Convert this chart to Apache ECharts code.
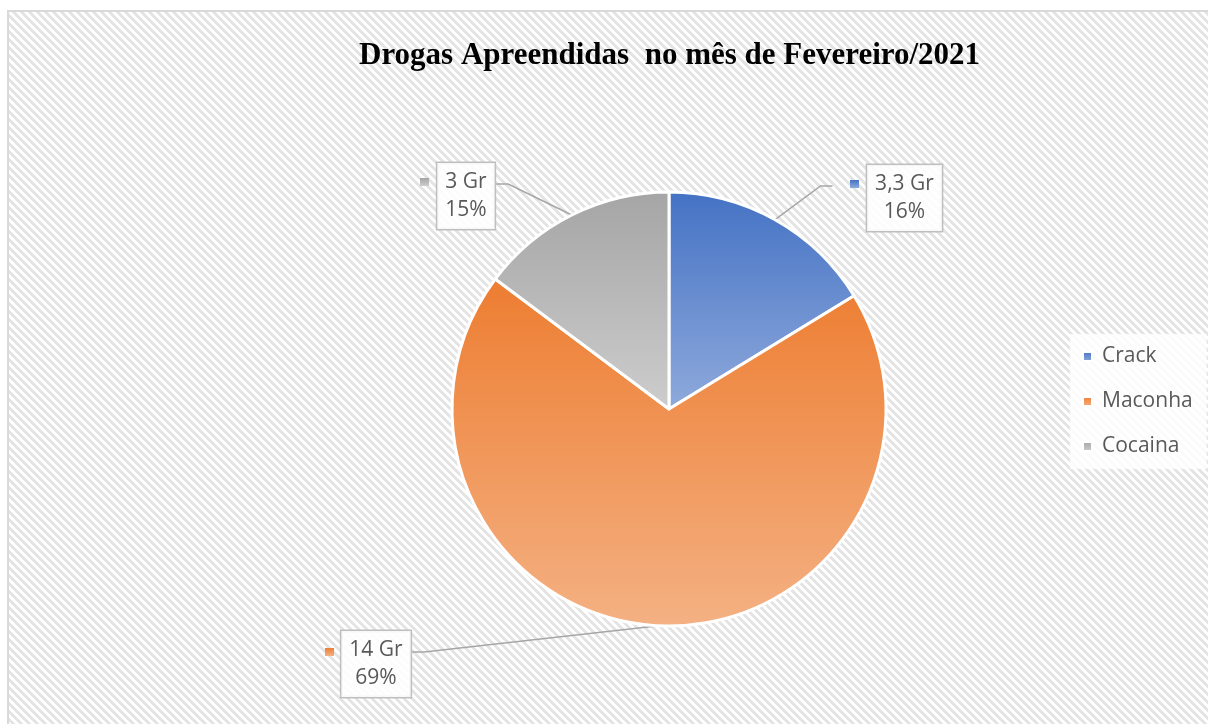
<!DOCTYPE html>
<html>
<head>
<meta charset="utf-8">
<script src="https://cdn.jsdelivr.net/npm/echarts@6/dist/echarts.min.js"></script>
<style>
  html, body { margin: 0; padding: 0; background: #fff; }
  #drogasChart { width: 1208px; height: 724px; }
</style>
</head>
<body>
<div id="drogasChart"></div>
<script>
// dados do gráfico
const drugNames = ["Crack", "Maconha", "Cocaina"];
const drugGrams = [3.3, 14, 3];
const chartTitle = "Drogas Apreendidas  no mês de Fevereiro/2021";

// cores (topo -> base do gradiente)
const sliceColors = [
  ["#4472C4", "#8FAADC"],
  ["#ED7D31", "#F4B183"],
  ["#A5A5A5", "#CDCDCD"]
];

// onde ficam as caixas dos rótulos (centro x, topo y) e os quadradinhos
const labelSpots = [
  { box: [904.5, 165], key: [854.5, 184], side: "left" },
  { box: [376, 631], key: [329.5, 652], side: "right" },
  { box: [466, 163], key: [424.5, 182], side: "right" }
];

const grad = (i) => new echarts.graphic.LinearGradient(0, 0, 0, 1, [
  { offset: 0, color: sliceColors[i][0] },
  { offset: 1, color: sliceColors[i][1] }
]);

// fundo hachurado
const HP = 8;
const hatch = document.createElement("canvas");
hatch.width = HP; hatch.height = HP;
const hctx = hatch.getContext("2d");
hctx.fillStyle = "#ffffff";
hctx.fillRect(0, 0, HP, HP);
hctx.fillStyle = "#e4e4e4";
for (let y = 0; y < HP; y++) {
  for (let x = 0; x < HP; x++) {
    if (((x - y) % HP + HP) % HP < 4) hctx.fillRect(x, y, 1, 1);
  }
}

const fmtGr = (v) => String(v).replace(".", ",") + " Gr";

const myChart = echarts.init(document.getElementById("drogasChart"));

let option = {
  backgroundColor: "#ffffff",
  animation: false,
  title: {
    text: chartTitle,
    left: 354,
    top: 35,
    textStyle: {
      fontFamily: "Liberation Serif",
      fontWeight: "bold",
      fontSize: 31,
      color: "#000000"
    }
  },
  legend: {
    orient: "vertical",
    left: 1070,
    top: 334,
    padding: [12, 14, 12, 12],
    itemGap: 24,
    itemWidth: 9,
    itemHeight: 9,
    icon: "rect",
    backgroundColor: "rgba(255,255,255,0.85)",
    data: drugNames,
    textStyle: {
      fontFamily: "Open Sans",
      fontSize: 21,
      color: "#595959",
      padding: [0, 0, 0, 5]
    }
  },
  graphic: [
    {
      type: "rect",
      z: -10,
      silent: true,
      shape: { x: 8, y: 11, width: 1212, height: 730 },
      style: {
        fill: { image: hatch, repeat: "repeat" },
        stroke: "#d9d9d9",
        lineWidth: 2
      }
    }
  ],
  series: [
    {
      name: "Drogas",
      type: "pie",
      center: [669, 409],
      radius: 217,
      startAngle: 90,
      clockwise: true,
      avoidLabelOverlap: false,
      itemStyle: { borderColor: "#ffffff", borderWidth: 3 },
      emphasis: { disabled: true },
      data: drugNames.map((n, i) => ({
        name: n,
        value: drugGrams[i],
        itemStyle: { color: grad(i) }
      })),
      label: {
        show: true,
        position: "outside",
        formatter: (p) => fmtGr(p.value) + "\n" + Math.round(p.percent) + "%",
        fontFamily: "Open Sans",
        fontSize: 21,
        lineHeight: 28,
        color: "#595959",
        align: "center",
        backgroundColor: "rgba(255,255,255,0.88)",
        borderColor: "#bfbfbf",
        borderWidth: 1.5,
        padding: [5, 8, 5, 8]
      },
      labelLine: {
        show: true,
        length: 20,
        length2: 12,
        smooth: false,
        lineStyle: { color: "#a6a6a6", width: 1.5 }
      },
      labelLayout: (params) => {
        const spot = labelSpots[params.dataIndex];
        const w = params.labelRect.width;
        const start = params.labelLinePoints[0];
        let end, mid;
        if (spot.side === "left") {
          end = [spot.key[0] - 22, spot.key[1] + 2];
          mid = [end[0] - 12, end[1]];
        } else {
          end = [spot.box[0] + w / 2, spot.box[1] + 21];
          mid = [end[0] + 12, end[1]];
        }
        return {
          x: spot.box[0],
          y: spot.box[1],
          align: "center",
          verticalAlign: "top",
          labelLinePoints: [start, mid, end]
        };
      }
    },
    {
      name: "Chaves",
      type: "pie",
      center: [669, 409],
      radius: 217,
      silent: true,
      z: 3,
      itemStyle: { color: "rgba(0,0,0,0)", borderWidth: 0 },
      emphasis: { disabled: true },
      data: drugNames.map((n, i) => ({
        name: n,
        value: drugGrams[i],
        label: { backgroundColor: grad(i) }
      })),
      label: {
        show: true,
        position: "outside",
        formatter: " ",
        fontSize: 8,
        lineHeight: 8,
        padding: [0, 2, 0, 2],
        width: 5,
        height: 8
      },
      labelLine: { show: false },
      labelLayout: (params) => {
        const spot = labelSpots[params.dataIndex];
        return {
          x: spot.key[0],
          y: spot.key[1],
          align: "center",
          verticalAlign: "middle"
        };
      }
    }
  ]
};

myChart.setOption(option);
window.onresize = function() {
  myChart.resize();
};
</script>
</body>
</html>
